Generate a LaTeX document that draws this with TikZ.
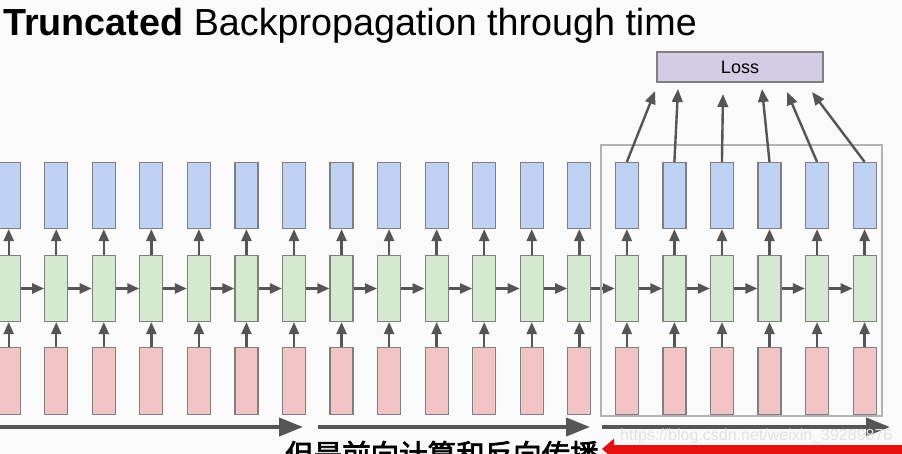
\documentclass[tikz,border=0pt]{standalone}
\usepackage{fontspec}
\setmainfont{Liberation Sans}
\newfontfamily\cjk{Noto Sans CJK SC}[FakeBold=2.5]
\usetikzlibrary{arrows.meta}
\definecolor{bgc}{HTML}{FAFAFA}
\definecolor{bluef}{HTML}{BFD2F4}
\definecolor{greenf}{HTML}{D5E8D0}
\definecolor{redf}{HTML}{F2C4C6}
\definecolor{lossf}{HTML}{D3CCE5}
\definecolor{edgec}{HTML}{7F7F7F}
\definecolor{arrc}{HTML}{555555}
\definecolor{winc}{HTML}{B3B3B3}
\definecolor{wmc}{HTML}{E2E2E2}
\definecolor{subred}{HTML}{E8100F}
\tikzset{
  cell/.style={draw=edgec, line width=1.2pt, minimum width=23pt, inner sep=0pt},
  bluebox/.style={cell, fill=bluef, minimum height=66pt},
  greenbox/.style={cell, fill=greenf, minimum height=66pt},
  redbox/.style={cell, fill=redf, minimum height=67pt},
  arr/.style={draw=arrc, line width=2.4pt, -{Triangle[length=12pt,width=10pt]}},
  bigarr/.style={draw=arrc, line width=4pt, -{Triangle[length=24pt,width=18pt]}},
  lossarr/.style={draw=arrc, line width=2.4pt, -{Triangle[length=13pt,width=10.5pt]}},
}
\begin{document}
\begin{tikzpicture}[x=1pt,y=-1pt]
\useasboundingbox (0,0) rectangle (902,454);
\clip (0,0) rectangle (902,454);
\fill[bgc] (0,0) rectangle (902,454);
% title
\node[anchor=base west, inner sep=0pt, font=\fontsize{37.7}{40}\selectfont] (title) at (3,36)
  {\textbf{Truncated} Backpropagation through time};
% columns
\foreach \i in {0,...,18}{
  \pgfmathsetmacro{\cx}{8.7+47.55*\i}
  \node[bluebox] (b\i) at (\cx,195.5) {};
  \node[greenbox] (g\i) at (\cx,288.5) {};
  \node[redbox] (r\i) at (\cx,381) {};
  \draw[arr] (r\i.north) -- (g\i.south);
  \draw[arr] (g\i.north) -- (b\i.south);
}
\foreach \i [evaluate=\i as \j using int(\i+1)] in {0,...,17}{
  \draw[arr] (g\i.east) -- (g\j.west);
}
% truncation window
\node[draw=winc, line width=2.5pt, minimum width=281pt, minimum height=271pt, inner sep=0pt] (win) at (741.5,280.5) {};
% loss
\node[draw=edgec, line width=1.2pt, fill=lossf, minimum width=166pt, minimum height=30pt, inner sep=0pt,
  font=\fontsize{18}{20}\selectfont] (loss) at (740,67) {Loss};
\coordinate (l13) at (655,91);
\coordinate (l14) at (678,89);
\coordinate (l15) at (723,94);
\coordinate (l16) at (762,89);
\coordinate (l17) at (787,92);
\coordinate (l18) at (812,92);
\foreach \i in {13,...,18}{
  \draw[lossarr] (b\i.north) -- (l\i);
}
% time arrows
\coordinate (t1s) at (-5,427);
\coordinate (t1e) at (303,427);
\coordinate (t2s) at (318,427);
\coordinate (t2e) at (590,427);
\coordinate (t3s) at (602,427);
\coordinate (t3e) at (890,427);
\draw[bigarr] (t1s) -- (t1e);
\draw[bigarr] (t2s) -- (t2e);
\draw[bigarr] (t3s) -- (t3e);
% subtitle overlay (cut by frame)
\coordinate (rs) at (905,449);
\coordinate (re) at (602,449);
\draw[draw=subred, line width=9pt, -{Triangle[length=12pt,width=20pt]}] (rs) -- (re);
\node[anchor=base west, inner sep=0pt, font=\cjk\fontsize{28.5}{30}\selectfont] (sub) at (285,465) {但是前向计算和反向传播};
\node[anchor=base west, inner sep=0pt, text=wmc, font=\fontsize{16}{18}\selectfont] (wm) at (620,440) {https://blog.csdn.net/weixin\_39289876};
\end{tikzpicture}
\end{document}
